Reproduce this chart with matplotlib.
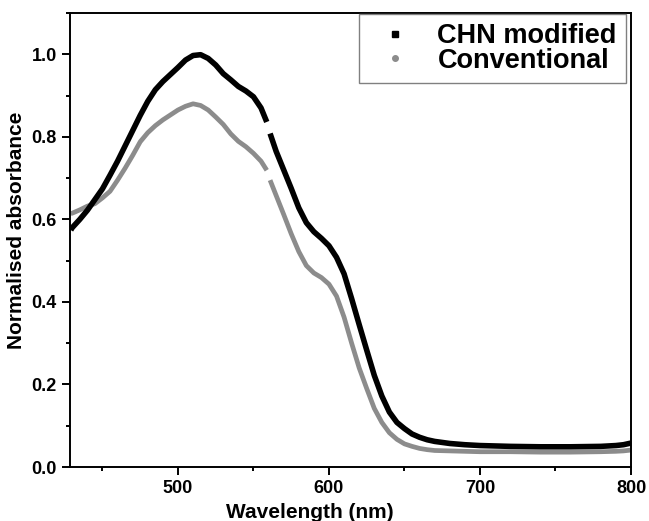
import numpy as np
import matplotlib
matplotlib.use("Agg")
import matplotlib.pyplot as plt
from matplotlib.lines import Line2D
from matplotlib.ticker import MultipleLocator, FormatStrFormatter

# wavelength grid (nm); NaN in the series marks the small gap in the recording
WAVELENGTH = [
    429, 430, 435, 440, 445, 450, 455, 460, 465, 470, 475, 480, 485, 490,
    495, 500, 505, 510, 515, 520, 525, 530, 535, 540, 545, 550, 555, 558.8,
    559.9, 561, 565, 570, 575, 580, 585, 590, 595, 600, 605, 610, 615,
    620, 625, 630, 635, 640, 645, 650, 655, 660, 665, 670, 680, 690, 700,
    720, 740, 760, 780, 790, 795, 800,
]

CHN_MODIFIED = [
    0.574, 0.58, 0.60, 0.622, 0.648, 0.674, 0.707, 0.741, 0.778, 0.815, 0.852, 0.886, 0.914, 0.934,
    0.951, 0.968, 0.986, 0.997, 0.999, 0.99, 0.974, 0.953, 0.938, 0.922, 0.911, 0.897, 0.87, 0.836,
    np.nan, 0.808, 0.765, 0.72, 0.675, 0.628, 0.592, 0.57, 0.554, 0.536, 0.508, 0.468, 0.408,
    0.345, 0.283, 0.222, 0.172, 0.133, 0.108, 0.093, 0.080, 0.072, 0.066, 0.062, 0.057, 0.054, 0.052,
    0.050, 0.049, 0.049, 0.050, 0.052, 0.054, 0.058,
]

CONVENTIONAL = [
    0.614, 0.615, 0.623, 0.632, 0.638, 0.652, 0.668, 0.695, 0.724, 0.755, 0.788, 0.81, 0.827, 0.841,
    0.853, 0.865, 0.874, 0.880, 0.876, 0.865, 0.848, 0.83, 0.807, 0.789, 0.776, 0.76, 0.741, 0.719,
    np.nan, 0.695, 0.658, 0.612, 0.565, 0.522, 0.488, 0.470, 0.459, 0.443, 0.414, 0.363, 0.300,
    0.24, 0.19, 0.142, 0.108, 0.083, 0.067, 0.056, 0.050, 0.045, 0.042, 0.040, 0.039, 0.038, 0.037,
    0.037, 0.036, 0.036, 0.037, 0.038, 0.039, 0.041,
]

SERIES_LABELS = ["CHN modified", "Conventional"]

plt.rcParams["font.family"] = ["Liberation Sans", "DejaVu Sans"]
plt.rcParams["font.weight"] = "bold"

fig = plt.figure(figsize=(6.49, 5.21), dpi=100)
ax = fig.add_axes([70 / 649, 54 / 521, 561 / 649, 454 / 521])

ax.plot(WAVELENGTH, CONVENTIONAL, color="#8c8c8c", linewidth=3.4,
        solid_capstyle="butt", solid_joinstyle="round", zorder=2)
ax.plot(WAVELENGTH, CHN_MODIFIED, color="black", linewidth=4.0,
        solid_capstyle="butt", solid_joinstyle="round", zorder=3)

ax.set_xlim(428.5, 800)
ax.set_ylim(0, 1.1)
ax.xaxis.set_major_locator(MultipleLocator(100))
ax.xaxis.set_minor_locator(MultipleLocator(50))
ax.yaxis.set_major_locator(MultipleLocator(0.2))
ax.yaxis.set_minor_locator(MultipleLocator(0.1))
ax.yaxis.set_major_formatter(FormatStrFormatter("%.1f"))

for spine in ax.spines.values():
    spine.set_linewidth(1.4)
ax.tick_params(which="major", direction="out", length=6, width=1.4,
               labelsize=13, pad=3.5)
ax.tick_params(which="minor", direction="out", length=3, width=1.4)

ax.set_xlabel("Wavelength (nm)", fontsize=15, fontweight="bold")
ax.set_ylabel("Normalised absorbance", fontsize=15, fontweight="bold")
ax.xaxis.set_label_coords((310 - 70) / 561, -36 / 454)
ax.yaxis.set_label_coords(-44 / 561, (467 - 230) / 454)

handles = [
    Line2D([], [], color="black", marker="s", linestyle="none", markersize=4),
    Line2D([], [], color="#8c8c8c", marker="o", linestyle="none", markersize=4),
]
leg = ax.legend(handles, SERIES_LABELS, loc="upper right",
                bbox_to_anchor=(556 / 561, 453 / 454), borderaxespad=0,
                prop={"weight": "bold", "size": 19.5},
                fancybox=False, edgecolor="#808080", framealpha=1,
                handlelength=2.0, handletextpad=0.55, labelspacing=-0.055,
                borderpad=0.34)
leg.get_frame().set_linewidth(1.0)

fig.savefig("out.png", dpi=100, facecolor="white")
